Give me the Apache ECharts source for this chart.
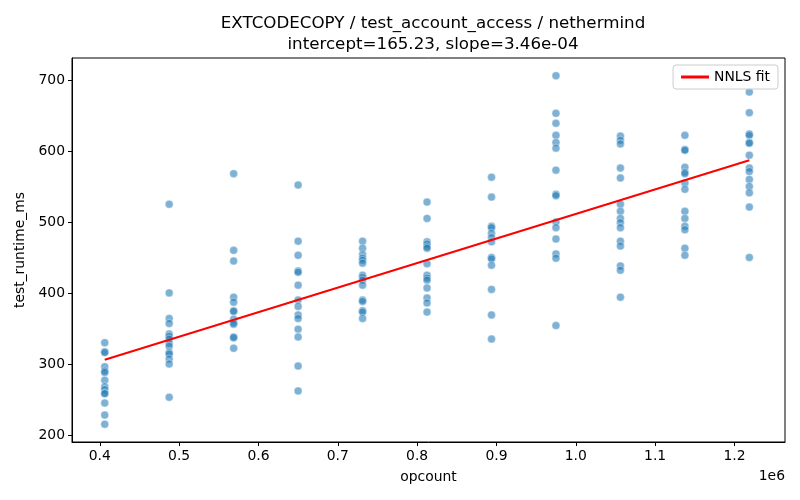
<!DOCTYPE html>
<html>
<head>
<meta charset="utf-8">
<script src="https://cdn.jsdelivr.net/npm/echarts@6/dist/echarts.min.js"></script>
<style>
  html, body { margin: 0; padding: 0; background: #fff; }
  #chart { width: 800px; height: 500px; }
</style>
</head>
<body>
<div id="chart"></div>
<script>
// opcount of each column of runs
var opcounts = [406250, 487500, 568750, 650000, 731250, 812500, 893750, 975000, 1056250, 1137500, 1218750];

var runtimes = [
  [330, 317, 316, 296, 290, 288, 277, 268, 264, 259, 258, 245, 228, 215],
  [525, 400, 364, 357, 342, 339, 335, 329, 325, 316, 314, 307, 300, 253],
  [568, 460, 445, 394, 387, 375, 374, 363, 358, 356, 338, 337, 322],
  [552, 473, 453, 431, 429, 411, 390, 381, 369, 364, 349, 338, 297, 262],
  [473, 463, 454, 449, 446, 442, 425, 422, 418, 411, 390, 388, 375, 373, 364],
  [528, 505, 472, 469, 465, 463, 441, 425, 421, 418, 407, 393, 386, 373],
  [563, 535, 494, 492, 484, 478, 472, 450, 448, 439, 405, 369, 335],
  [706, 653, 639, 622, 612, 604, 573, 539, 537, 500, 492, 476, 455, 449, 354],
  [621, 615, 610, 576, 562, 525, 515, 505, 499, 492, 473, 466, 438, 432, 394],
  [622, 602, 601, 577, 570, 568, 555, 546, 515, 505, 494, 489, 463, 453],
  [683, 654, 624, 622, 612, 611, 594, 576, 571, 560, 550, 541, 521, 450]
];

// NNLS fit endpoints (intercept=165.23, slope=3.46e-04)
var fitX = [406250, 1218750];
var fitY = [305.8, 586.9];

var xTicks = [400000, 500000, 600000, 700000, 800000, 900000, 1000000, 1100000, 1200000];
var yTicks = [200, 300, 400, 500, 600, 700];

var points = [];
for (var i = 0; i < opcounts.length; i++) {
  for (var j = 0; j < runtimes[i].length; j++) {
    points.push([opcounts[i], runtimes[i][j]]);
  }
}
var fitData = [];
for (var k = 0; k < fitX.length; k++) {
  fitData.push([fitX[k], fitY[k]]);
}

var font = 'DejaVu Sans';

var option = {
  animation: false,
  textStyle: { fontFamily: font },
  title: {
    text: 'EXTCODECOPY / test_account_access / nethermind\nintercept=165.23, slope=3.46e-04',
    left: 428,
    textAlign: 'center',
    top: 8,
    textStyle: { fontFamily: font, fontSize: 16.7, fontWeight: 'normal', color: '#000', lineHeight: 21 }
  },
  legend: {
    data: [{ name: 'NNLS fit', icon: 'rect' }],
    right: 22,
    top: 65,
    itemWidth: 28,
    itemHeight: 3,
    itemGap: 8,
    padding: [5, 8, 5, 8],
    borderColor: '#cccccc',
    borderWidth: 1,
    borderRadius: 3,
    backgroundColor: 'rgba(255,255,255,0.8)',
    textStyle: { fontFamily: font, fontSize: 13.9, color: '#000' }
  },
  grid: { left: 72, right: 15, top: 58, bottom: 58, show: true, borderColor: '#000', borderWidth: 1 },
  xAxis: {
    type: 'value',
    min: 365000,
    max: 1263700,
    name: 'opcount',
    nameLocation: 'middle',
    nameGap: 28,
    nameTextStyle: { fontFamily: font, fontSize: 13.9, color: '#000' },
    splitLine: { show: false },
    axisLine: { show: true, lineStyle: { color: '#000' } },
    axisTick: { show: true, length: 4, lineStyle: { color: '#000' }, customValues: xTicks },
    axisLabel: {
      fontFamily: font, fontSize: 13.9, color: '#000', margin: 7,
      customValues: xTicks,
      formatter: function (v) { return (v / 1e6).toFixed(1); }
    }
  },
  yAxis: {
    type: 'value',
    min: 190,
    max: 731,
    name: 'test_runtime_ms',
    nameLocation: 'middle',
    nameGap: 44,
    nameTextStyle: { fontFamily: font, fontSize: 13.9, color: '#000' },
    splitLine: { show: false },
    axisLine: { show: true, lineStyle: { color: '#000' } },
    axisTick: { show: true, length: 4, lineStyle: { color: '#000' }, customValues: yTicks },
    axisLabel: { fontFamily: font, fontSize: 13.9, color: '#000', margin: 7, customValues: yTicks }
  },
  graphic: [{
    type: 'text',
    right: 15,
    top: 469,
    style: { text: '1e6', font: '13.9px "DejaVu Sans"', fill: '#000' }
  }],
  series: [
    {
      name: 'runs',
      type: 'scatter',
      data: points,
      symbolSize: 8,
      itemStyle: { color: 'rgba(31,119,180,0.72)', borderColor: '#fff', borderWidth: 0.5 },
      z: 2
    },
    {
      name: 'NNLS fit',
      type: 'line',
      data: fitData,
      symbol: 'none',
      lineStyle: { color: '#ff0000', width: 2 },
      itemStyle: { color: '#ff0000' },
      z: 3
    }
  ]
};

var myChart = echarts.init(document.getElementById('chart'));
myChart.setOption(option);
</script>
</body>
</html>
